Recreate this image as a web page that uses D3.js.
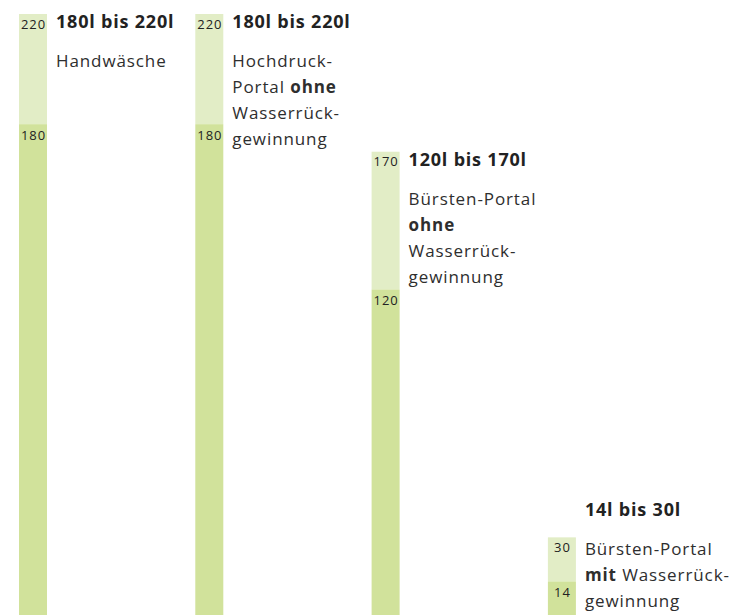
<!DOCTYPE html>
<html>
<head>
<meta charset="utf-8">
<script src="https://cdn.jsdelivr.net/npm/d3@7"></script>
<style>
  html, body { margin: 0; padding: 0; background: #fff; }
  svg { display: block; font-family: "Open Sans", "Noto Sans", sans-serif; }
</style>
</head>
<body>
<svg id="chart" width="733" height="615"></svg>
<script>
// ---- data ----
const categories = ["Handwäsche", "Hochdruck-Portal ohne Wasserrückgewinnung", "Bürsten-Portal ohne Wasserrückgewinnung", "Bürsten-Portal mit Wasserrückgewinnung"];
const minValues = [180, 180, 120, 14];
const maxValues = [220, 220, 170, 30];
// description lines; each line is a list of [text, bold] segments
const descLines = [
  [[["Handwäsche", false]]],
  [[["Hochdruck-", false]], [["Portal ", false], ["ohne", true]], [["Wasserrück-", false]], [["gewinnung", false]]],
  [[["Bürsten-Portal", false]], [["ohne", true]], [["Wasserrück-", false]], [["gewinnung", false]]],
  [[["Bürsten-Portal", false]], [["mit", true], [" Wasserrück-", false]], [["gewinnung", false]]]
];

// ---- layout ----
const W = 733, H = 615;
const barW = 28;
const svg = d3.select("#chart");

const x = d3.scaleBand().domain(categories).range([19, 19 + 176.3 * 4]).paddingInner(0).paddingOuter(0);
const y = d3.scaleLinear().domain([0, 220]).range([620, 14]);

const colLight = "#e2edc6";
const colDark = "#d1e29b";
const textCol = "#222";

const g = svg.append("g");

categories.forEach((c, i) => {
  const bx = x(c);
  const yMax = y(maxValues[i]);
  const yMin = y(minValues[i]);
  const y0 = y(0);

  // light part: min..max
  g.append("rect").attr("x", bx).attr("y", yMax).attr("width", barW).attr("height", yMin - yMax).attr("fill", colLight);
  // dark part: 0..min
  g.append("rect").attr("x", bx).attr("y", yMin).attr("width", barW).attr("height", y0 - yMin).attr("fill", colDark);

  // value labels
  [[maxValues[i], yMax, 14.5], [minValues[i], yMin, 16]].forEach(([v, yy, off]) => {
    g.append("text").attr("x", bx + barW / 2 + 0.5).attr("y", yy + off)
      .attr("text-anchor", "middle").attr("font-size", 13).attr("letter-spacing", 0.9)
      .attr("fill", textCol).text(v);
  });

  // text block
  const lines = descLines[i];
  const lineH = 26;
  const descOffset = 39;
  const blockBottom = descOffset + lineH * (lines.length - 1);
  const titleBase = Math.min(yMax + 14, H - 8 - blockBottom);
  const tx = bx + barW + 9;

  g.append("text").attr("x", tx).attr("y", titleBase)
    .attr("font-size", 18).attr("font-weight", 700).attr("letter-spacing", 0.8).attr("fill", textCol)
    .text(`${minValues[i]}l bis ${maxValues[i]}l`);

  lines.forEach((segs, li) => {
    const t = g.append("text").attr("x", tx).attr("y", titleBase + descOffset + li * lineH)
      .attr("font-size", 17).attr("letter-spacing", 0.9).attr("fill", "#2e2e2e");
    segs.forEach(([s, b]) => {
      t.append("tspan").attr("font-weight", b ? 700 : 400).text(s);
    });
  });
});
</script>
</body>
</html>
